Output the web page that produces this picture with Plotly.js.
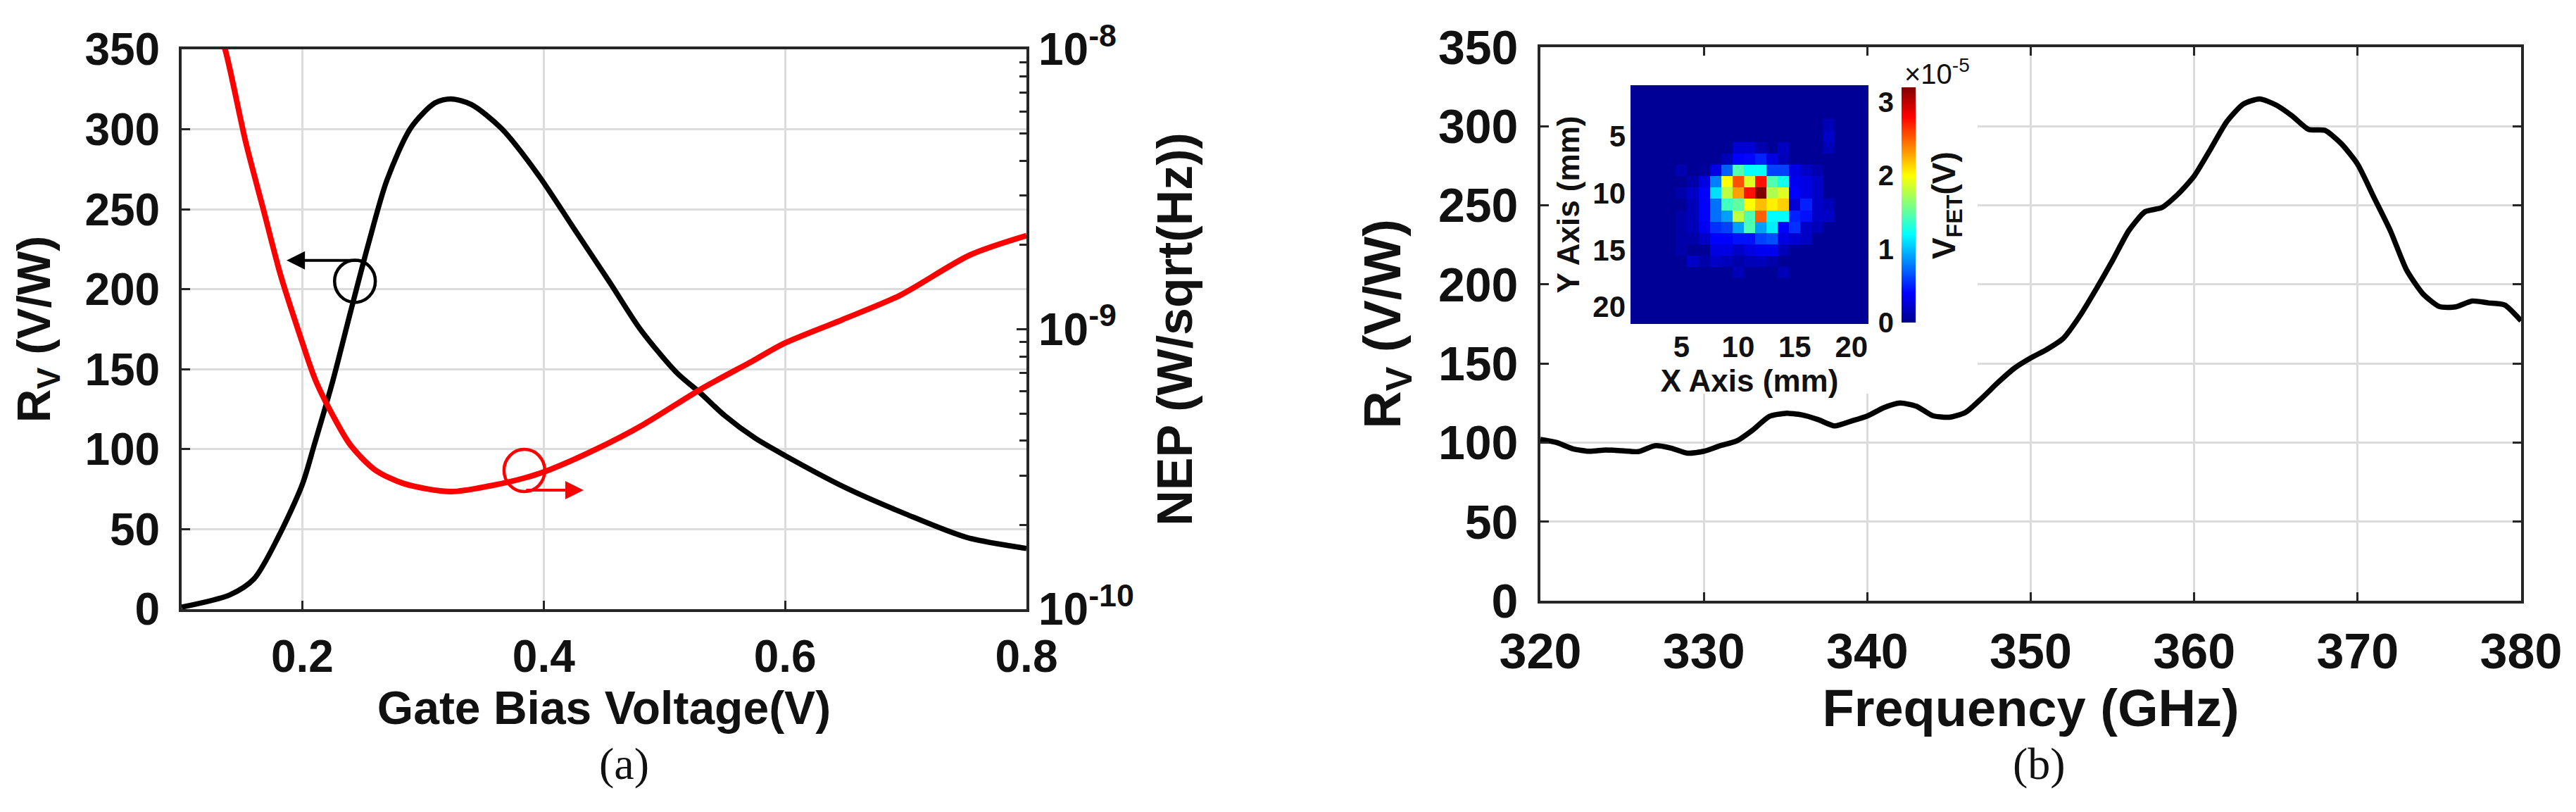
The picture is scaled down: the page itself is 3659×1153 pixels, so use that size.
<!DOCTYPE html>
<html>
<head>
<meta charset="utf-8">
<script src="https://cdn.plot.ly/plotly-3.0.1.min.js"></script>
<style>
  html, body { margin: 0; padding: 0; background: #fff; }
  #chart { width: 3659px; height: 1153px; }
</style>
</head>
<body>
<div id="chart"></div>
<script>
// (a) responsivity (left axis) and NEP (right, log) against gate bias
var biasV = [0.10, 0.14, 0.16, 0.18, 0.20, 0.21, 0.225, 0.24, 0.255, 0.27, 0.29, 0.31, 0.323, 0.34,
             0.365, 0.395, 0.425, 0.455, 0.48, 0.51, 0.53, 0.55, 0.575, 0.60, 0.65, 0.70, 0.75, 0.80];
var respBias = [1.3, 9, 19, 45, 78, 103, 142, 186, 229, 268, 301, 316.5, 319, 315.5,
                300.5, 272, 238, 204, 175, 148, 135, 121, 107, 96, 76, 59.5, 45, 38];

var nepV = [0.130, 0.136, 0.153, 0.168, 0.182, 0.197, 0.211, 0.226, 0.240, 0.260, 0.284, 0.323,
            0.356, 0.385, 0.405, 0.443, 0.482, 0.531, 0.574, 0.598, 0.647, 0.695, 0.753, 0.800];
var nep = [1.17e-8, 1.0e-8, 4.68e-9, 2.65e-9, 1.56e-9, 9.8e-10, 6.56e-10, 4.86e-10, 3.85e-10, 3.15e-10,
           2.81e-10, 2.63e-10, 2.76e-10, 2.95e-10, 3.15e-10, 3.72e-10, 4.55e-10, 6.14e-10, 7.74e-10,
           8.85e-10, 1.08e-9, 1.32e-9, 1.84e-9, 2.16e-9];

var biasTicks = [0.2, 0.4, 0.6, 0.8];
var biasTickText = ['0.2', '0.4', '0.6', '0.8'];
var respTicks = [0, 50, 100, 150, 200, 250, 300, 350];
var nepTicks = [1e-10, 1e-9, 1e-8];
var nepTickText = ['10<sup>-10</sup>', '10<sup>-9</sup>', '10<sup>-8</sup>'];

// (b) responsivity against frequency
var freqGHz = [320, 321, 322, 323, 324, 325, 326, 327, 328, 329, 330, 331, 332, 333, 334, 335, 336, 337,
               338, 339, 340, 341, 342, 343, 344, 345, 346, 347, 348, 349, 350, 351, 352, 353, 354, 355,
               356, 357, 358, 359, 360, 361, 362, 363, 364, 365, 366, 367, 368, 369, 370, 371, 372, 373,
               374, 375, 376, 377, 378, 379, 380];
var respFreq = [102, 100, 96, 94.5, 95.3, 94.8, 94.3, 98, 96.5, 93.3, 94.5, 98, 101, 108, 116.5, 118.5,
                117.5, 114.5, 110.5, 113.5, 116.8, 122, 125, 123, 117, 116, 119, 128, 138, 147, 153.5,
                159, 166, 180, 197, 215, 234, 246, 248.5, 257, 268.5, 285.5, 303, 314, 317.3, 313.5,
                306.5, 298, 297.4, 289, 276, 255, 234, 209, 194, 186, 185.8, 189.5, 188.3, 187, 177];
var freqTicks = [320, 330, 340, 350, 360, 370, 380];

// inset: beam map, V_FET in units of 1e-5 V, rows = Y (mm) 1..21, cols = X (mm) 1..21
var mapX = [1, 2, 3, 4, 5, 6, 7, 8, 9, 10, 11, 12, 13, 14, 15, 16, 17, 18, 19, 20, 21];
var mapY = [1, 2, 3, 4, 5, 6, 7, 8, 9, 10, 11, 12, 13, 14, 15, 16, 17, 18, 19, 20, 21];
var vfet = [
  [.03,.03,.03,.03,.03,.03,.03,.03,.03,.03,.03,.03,.03,.03,.03,.03,.03,.03,.03,.03,.03],
  [.03,.03,.03,.03,.03,.03,.03,.03,.03,.03,.03,.03,.03,.03,.03,.03,.03,.03,.03,.03,.03],
  [.03,.03,.03,.03,.03,.03,.03,.03,.03,.03,.03,.03,.03,.03,.03,.03,.03,.03,.03,.03,.03],
  [.03,.03,.03,.03,.03,.03,.03,.03,.03,.03,.03,.03,.03,.03,.03,.03,.03,.15,.03,.03,.03],
  [.03,.03,.03,.03,.03,.03,.03,.03,.03,.03,.03,.03,.03,.03,.03,.03,.03,.20,.03,.03,.03],
  [.03,.03,.03,.03,.03,.03,.03,.03,.03,.25,.25,.12,.03,.18,.03,.03,.03,.15,.03,.03,.03],
  [.03,.03,.03,.03,.03,.03,.03,.03,.15,.40,.42,.50,.30,.15,.03,.03,.03,.03,.03,.03,.03],
  [.03,.03,.03,.03,.12,.03,.05,.30,.70,1.45,1.2,1.2,.60,.60,.30,.20,.12,.03,.03,.03,.03],
  [.03,.03,.03,.03,.03,.10,.30,.80,2.0,2.55,1.9,2.75,1.45,1.25,.35,.30,.20,.03,.03,.03,.03],
  [.03,.03,.03,.03,.10,.20,.40,1.1,1.8,2.3,2.75,3.2,1.75,1.9,.40,.30,.20,.03,.03,.03,.03],
  [.03,.03,.03,.03,.03,.15,.40,.75,1.4,1.5,2.0,2.2,2.05,2.15,.25,.50,.20,.15,.03,.03,.03],
  [.03,.03,.03,.03,.10,.15,.40,.75,.90,1.8,1.45,2.5,1.2,1.2,.50,.45,.20,.20,.03,.03,.03],
  [.03,.03,.03,.03,.10,.15,.35,.55,.60,.90,1.45,.90,1.15,.40,.55,.20,.15,.03,.03,.03,.03],
  [.03,.03,.03,.03,.10,.10,.20,.40,.40,.45,.45,.60,.65,.30,.25,.20,.03,.03,.03,.03,.03],
  [.03,.03,.03,.03,.10,.03,.03,.30,.30,.20,.30,.35,.35,.15,.03,.03,.03,.03,.03,.03,.03],
  [.03,.03,.03,.03,.03,.20,.10,.20,.15,.10,.15,.15,.10,.03,.03,.03,.03,.03,.03,.03,.03],
  [.03,.03,.03,.03,.03,.03,.03,.03,.03,.15,.03,.03,.03,.15,.03,.03,.03,.03,.03,.03,.03],
  [.03,.03,.03,.03,.03,.03,.03,.03,.03,.03,.03,.03,.03,.03,.03,.03,.03,.03,.03,.03,.03],
  [.03,.03,.03,.03,.03,.03,.03,.03,.03,.03,.03,.03,.03,.03,.03,.03,.03,.03,.03,.03,.03],
  [.03,.03,.03,.03,.03,.03,.03,.03,.03,.03,.03,.03,.03,.03,.03,.03,.03,.03,.03,.03,.03],
  [.03,.03,.03,.03,.03,.03,.03,.03,.03,.03,.03,.03,.03,.03,.03,.03,.03,.03,.03,.03,.03]
];
var mapTicks = [5, 10, 15, 20];
var vfetTicks = [0, 1, 2, 3];

var jet = [[0, 'rgb(0,0,143)'], [0.125, 'rgb(0,0,255)'], [0.375, 'rgb(0,255,255)'],
           [0.625, 'rgb(255,255,0)'], [0.875, 'rgb(255,0,0)'], [1, 'rgb(128,0,0)']];

function font(size, bold, fam) {
  return {family: fam || 'Liberation Sans, Arial, sans-serif', size: size, color: '#111',
          weight: bold ? 'bold' : 'normal'};
}

var gridCol = '#dcdcdc';
var lineCol = '#262626';

function mainAxis(extra) {
  var a = {
    showline: true, linecolor: lineCol, linewidth: 4, mirror: true,
    showgrid: true, gridcolor: gridCol, gridwidth: 3, zeroline: false,
    ticks: 'inside', ticklen: 12, tickwidth: 3, tickcolor: lineCol,
    fixedrange: true
  };
  for (var k in extra) a[k] = extra[k];
  return a;
}

var data = [
  {type: 'scatter', mode: 'lines', x: biasV, y: respBias, xaxis: 'x', yaxis: 'y',
   line: {color: '#000', width: 7.5, shape: 'spline', smoothing: 0.8}, name: 'R<sub>V</sub>'},
  {type: 'scatter', mode: 'lines', x: nepV, y: nep, xaxis: 'x', yaxis: 'y2',
   line: {color: '#ff0000', width: 8, shape: 'spline', smoothing: 0.8}, name: 'NEP'},
  {type: 'scatter', mode: 'lines', x: freqGHz, y: respFreq, xaxis: 'x2', yaxis: 'y3',
   line: {color: '#000', width: 7.5, shape: 'spline', smoothing: 0.6}, name: 'R<sub>V</sub>'},
  {type: 'heatmap', x: mapX, y: mapY, z: vfet, xaxis: 'x3', yaxis: 'y4',
   colorscale: jet, zmin: 0, zmax: 3.2, zsmooth: false, hoverinfo: 'skip',
   colorbar: {x: 0.73818, xanchor: 'left', xpad: 0, y: 0.89245, yanchor: 'top', ypad: 0,
              len: 0.28968, lenmode: 'fraction', thickness: 20, thicknessmode: 'pixels',
              outlinewidth: 0, ticks: '', showticklabels: false}},
  // carries the colour bar's left-hand tick labels
  {type: 'scatter', mode: 'markers', x: [], y: [], xaxis: 'x4', yaxis: 'y5',
   hoverinfo: 'skip', showlegend: false}
];

var layout = {
  width: 3659, height: 1153,
  margin: {l: 0, r: 0, t: 0, b: 0},
  paper_bgcolor: '#fff', plot_bgcolor: '#fff',
  showlegend: false,

  xaxis: mainAxis({domain: [0.07051, 0.39847], anchor: 'y', range: [0.1, 0.8],
    tickvals: biasTicks, ticktext: biasTickText, tickfont: font(64, true),
    ticklabelstandoff: 8,
    title: {text: 'Gate Bias Voltage(V)', font: font(66, true), standoff: 12}}),
  yaxis: mainAxis({domain: [0.24978, 0.93929], anchor: 'x', range: [0, 350],
    tickvals: respTicks, tickfont: font(64, true), ticklabelstandoff: 14,
    title: {text: 'R<sub>V</sub> (V/W)', font: font(66, true), standoff: 28}}),
  yaxis2: {type: 'log', overlaying: 'y', side: 'right', anchor: 'x', range: [-10, -8],
    tickmode: 'array', tickvals: nepTicks, ticktext: nepTickText,
    showgrid: false, zeroline: false, showline: false,
    ticks: 'inside', ticklen: 14, tickwidth: 3, tickcolor: lineCol,
    minor: {ticks: 'inside', ticklen: 10, tickwidth: 3, tickcolor: lineCol, dtick: 'D1', showgrid: false},
    tickfont: font(64, true), ticklabelstandoff: 16, fixedrange: true,
    title: {text: 'NEP (W/sqrt(Hz))', font: font(70, true), standoff: 34}},

  xaxis2: mainAxis({domain: [0.59798, 0.97868], anchor: 'y3', range: [320, 380],
    tickvals: freqTicks, tickfont: font(70, true), mirror: 'ticks', ticklabelstandoff: 8,
    title: {text: 'Frequency (GHz)', font: font(74, true), standoff: 14}}),
  yaxis3: mainAxis({domain: [0.26019, 0.94189], anchor: 'x2', range: [0, 350],
    tickvals: respTicks, tickfont: font(68, true), mirror: 'ticks', ticklabelstandoff: 14,
    title: {text: 'R<sub>V</sub> (V/W)', font: font(74, true), standoff: 30}}),

  xaxis3: {domain: [0.63296, 0.72533], anchor: 'y4', range: [0.5, 21.5],
    tickvals: mapTicks, showgrid: false, zeroline: false, showline: false, ticks: '',
    tickfont: font(42, true), ticklabelstandoff: 4, fixedrange: true,
    title: {text: 'X Axis (mm)', font: font(44, true), standoff: 2}},
  yaxis4: {domain: [0.60104, 0.89506], anchor: 'x3', range: [21.5, 0.5],
    tickvals: mapTicks, showgrid: false, zeroline: false, showline: false, ticks: '',
    tickfont: font(42, true), ticklabelstandoff: 6, fixedrange: true,
    title: {text: 'Y Axis (mm)', font: font(44, true), standoff: 4}},

  xaxis4: {domain: [0.73818, 0.74365], anchor: 'y5', range: [0, 1], fixedrange: true,
    showgrid: false, zeroline: false, showline: false, showticklabels: false, ticks: ''},
  yaxis5: {domain: [0.60278, 0.89245], anchor: 'x4', side: 'left', range: [0, 3.2],
    tickvals: vfetTicks, showgrid: false, zeroline: false, showline: false, ticks: '',
    tickfont: font(40, true), ticklabelstandoff: 10, fixedrange: true},

  shapes: [
    {type: 'circle', xref: 'x', yref: 'y', x0: 0.2267, x1: 0.2605, y0: 191.8, y1: 218.2,
     line: {color: '#000', width: 4.5}},
    {type: 'circle', xref: 'x', yref: 'y', x0: 0.3671, x1: 0.4009, y0: 73.5, y1: 99.9,
     line: {color: '#ff0000', width: 4.5}},
    // white backdrop of the inset hides the grid behind it
    {type: 'rect', xref: 'x2', yref: 'y3', x0: 320.2, x1: 346.75, y0: 130.9, y1: 349.2,
     fillcolor: '#fff', line: {width: 0}, layer: 'between'}
  ],

  annotations: [
    {xref: 'x', yref: 'y', x: 0.187, y: 218, ax: 104, ay: 0, text: '', showarrow: true,
     arrowhead: 2, arrowsize: 1.3, arrowwidth: 4, arrowcolor: '#000'},
    {xref: 'x', yref: 'y', x: 0.433, y: 74.4, ax: -83, ay: 0, text: '', showarrow: true,
     arrowhead: 2, arrowsize: 1.3, arrowwidth: 4, arrowcolor: '#ff0000'},
    {xref: 'paper', yref: 'paper', x: 0.7519, y: 0.9115, text: '\u00d710<sup>-5</sup>',
     showarrow: false, font: font(40, false), xanchor: 'center', yanchor: 'middle'},
    {xref: 'paper', yref: 'paper', x: 0.7554, y: 0.7467, text: 'V<sub>FET</sub>(V)', textangle: -90,
     showarrow: false, font: font(46, true), xanchor: 'center', yanchor: 'middle'},
    {xref: 'paper', yref: 'paper', x: 0.2424, y: 0.059, text: '(a)', showarrow: false,
     font: font(64, false, 'Liberation Serif, DejaVu Serif, serif'), xanchor: 'center', yanchor: 'middle'},
    {xref: 'paper', yref: 'paper', x: 0.7915, y: 0.059, text: '(b)', showarrow: false,
     font: font(64, false, 'Liberation Serif, DejaVu Serif, serif'), xanchor: 'center', yanchor: 'middle'}
  ]
};

Plotly.newPlot('chart', data, layout, {staticPlot: true, displayModeBar: false});
</script>
</body>
</html>
